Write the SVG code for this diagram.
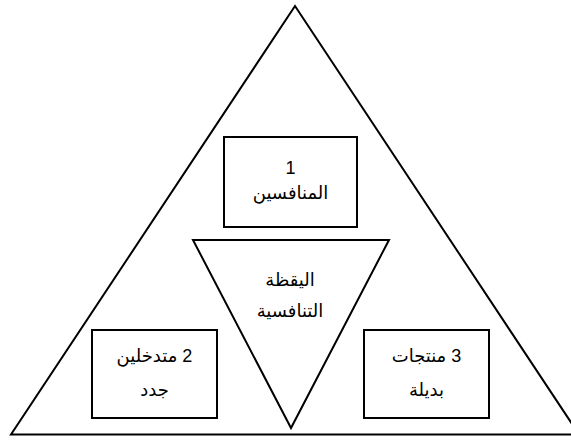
<svg xmlns="http://www.w3.org/2000/svg" width="571" height="440" viewBox="0 0 571 440">
  <style>
    .shape { fill: #ffffff; stroke: #000000; stroke-width: 2; stroke-linejoin: miter; }
    .label { font-family: "Liberation Sans", "DejaVu Sans", sans-serif; font-size: 18px; fill: #000000; text-anchor: middle; direction: rtl; unicode-bidi: embed; }
  </style>
  <rect x="0" y="0" width="571" height="440" fill="#ffffff"/>
  <!-- outer triangle -->
  <g id="outer-triangle">
    <polygon class="shape" points="295,6 11,434.5 579,434.5"/>
  </g>
  <!-- competitors box -->
  <g id="node-competitors">
    <rect class="shape" x="224" y="137" width="133" height="90"/>
    <text class="label" x="290.5" y="174">1</text>
    <text class="label" x="290.5" y="199">المنافسين</text>
  </g>
  <!-- competitive intelligence (inverted triangle) -->
  <g id="node-intelligence">
    <polygon class="shape" points="193,240 389,240 291,428"/>
    <text class="label" x="290" y="286">اليقظة</text>
    <text class="label" x="290" y="317">التنافسية</text>
  </g>
  <!-- new entrants box -->
  <g id="node-entrants">
    <rect class="shape" x="92" y="330" width="125" height="88"/>
    <text class="label" x="154.5" y="362">2 متدخلين</text>
    <text class="label" x="154.5" y="396">جدد</text>
  </g>
  <!-- substitutes box -->
  <g id="node-substitutes">
    <rect class="shape" x="364" y="330" width="125" height="88"/>
    <text class="label" x="426.5" y="362">3 منتجات</text>
    <text class="label" x="426.5" y="396">بديلة</text>
  </g>
  <g id="connectors"/>
</svg>
